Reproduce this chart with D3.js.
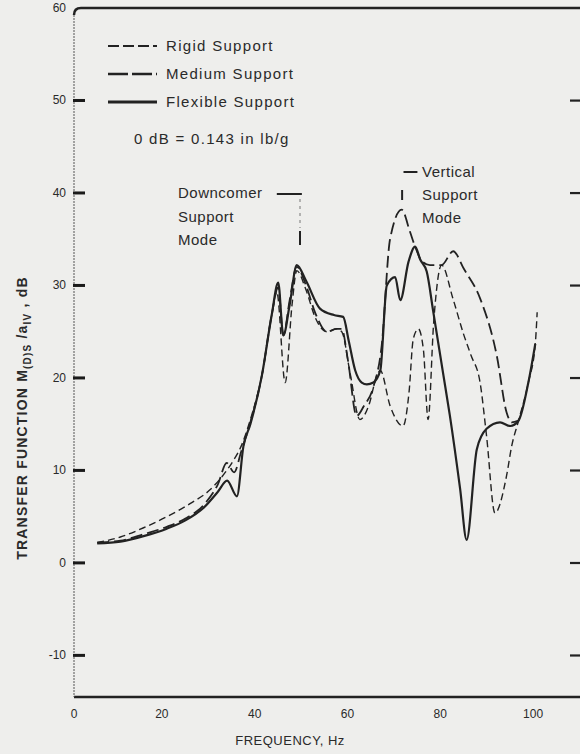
<!DOCTYPE html>
<html>
<head>
<meta charset="utf-8">
<script src="https://cdn.jsdelivr.net/npm/d3@7"></script>
<style>
  body { margin: 0; background: #eeeeec; }
  svg { display: block; }
  text { font-family: "Liberation Sans", Arial, sans-serif; fill: #2a2a2a; }
</style>
</head>
<body>
<div id="chart"></div>
<script>
// tick labels
var xTicks = [0, 20, 40, 60, 80, 100];
var yTicks = [-10, 0, 10, 20, 30, 40, 50, 60];

// Rigid support (short dashes)
var rigidFreq = [5, 10, 15, 20, 25, 29.3, 32, 34, 36, 38, 40.5, 42.6, 43.7, 45.5, 47, 48, 50, 52, 54.5, 56.6, 57.7, 59.5, 61.6, 63.5, 65.3, 66, 68.1, 70.9, 72.2, 73.1, 74.2, 75.3, 76.3, 77.5, 79.2, 81.7, 83.9, 85.5, 87.5, 88.9, 90.7, 93.2, 94.3, 95.8, 97.9, 99.4, 99.8];
var rigidDb = [2.2, 2.8, 3.8, 5.0, 6.4, 7.9, 9.4, 10.8, 12.6, 15.5, 20.3, 26.8, 29.3, 19.5, 28.0, 31.6, 29.5, 26.5, 25.0, 25.3, 25.0, 20.5, 15.5, 17.0, 20.3, 20.8, 17.0, 14.8, 18.5, 24.2, 25.3, 23.0, 15.5, 26.0, 32.2, 28.5, 24.8, 22.5, 19.5, 13.7, 5.4, 9.4, 12.6, 15.4, 19.5, 23.7, 27.1];

// Medium support (long dashes)
var mediumFreq = [5, 10, 15, 20, 24, 28, 31, 32.9, 34.5, 36, 38, 40.5, 42.6, 44, 45.1, 46.5, 48, 50, 52, 54.5, 56.6, 57.7, 59, 60.9, 62.5, 64.5, 66.3, 68.1, 70.6, 72.4, 73.5, 75, 76.7, 79.2, 81.7, 84, 87.5, 91.1, 93.2, 94.3, 95.8];
var mediumDb = [2.2, 2.4, 3.1, 3.9, 4.8, 6.3, 8.5, 10.8, 9.8, 12.0, 15.2, 20.3, 26.8, 29.8, 24.6, 28.5, 32.0, 30.0, 27.0, 25.0, 25.3, 25.3, 22.0, 15.9, 17.0, 19.0, 23.5, 35.0, 38.2, 35.8, 34.2, 32.6, 32.2, 32.2, 33.7, 31.8, 28.6, 22.4, 16.3, 15.2, 15.4];

// Flexible support (solid)
var flexFreq = [5, 10, 15, 20, 24, 28, 31, 33, 35.1, 36.5, 38, 40.5, 42.6, 44, 45.1, 46.5, 48, 50, 53, 56, 58, 59.2, 60.6, 62, 63.1, 64.5, 66, 67.4, 69.2, 70.3, 72.1, 73.5, 74.6, 76, 77.4, 79.5, 81, 83.2, 84.6, 86.8, 88.9, 91.8, 94, 95.8, 97.9, 99.4];
var flexDb = [2.1, 2.3, 2.9, 3.7, 4.6, 6.0, 7.7, 8.9, 7.2, 12.6, 15.0, 20.3, 26.8, 30.3, 24.6, 28.0, 32.2, 30.5, 27.5, 26.8, 26.6, 24.0, 20.8, 19.5, 19.3, 19.5, 20.8, 30.0, 30.9, 28.4, 32.6, 34.2, 32.8, 31.5, 27.2, 20.6, 15.9, 8.0, 2.5, 12.3, 14.5, 15.2, 14.8, 15.4, 19.5, 23.7];

var seriesNames = ["Rigid Support", "Medium Support", "Flexible Support"];

var width = 580,
	height = 754;

var svg = d3.select("#chart")
	.append("svg")
	.attr("width", width)
	.attr("height", height);

var x = d3.scaleLinear().domain([0, 108.6]).range([74, 578]);
var y = d3.scaleLinear().domain([-14.5, 60]).range([697, 8]);

var ink = "#222";

// frame: thick top and bottom, thin dotted left
svg.append("path")
	.attr("d", "M" + x(0) + "," + (y(60) + 7) + " Q" + x(0) + "," + y(60) + " " + (x(0) + 7) + "," + y(60) + " L580," + y(60))
	.style("fill", "none")
	.style("stroke", ink)
	.style("stroke-width", 2.5);

svg.append("line")
	.attr("x1", x(0)).attr("x2", 580)
	.attr("y1", y(-14.5)).attr("y2", y(-14.5))
	.style("stroke", ink)
	.style("stroke-width", 2.5);

svg.append("line")
	.attr("x1", x(0)).attr("x2", x(0))
	.attr("y1", y(60) + 7).attr("y2", y(-14.5))
	.style("stroke", "#555")
	.style("stroke-width", 1)
	.style("stroke-dasharray", "2,1");

// y tick labels
svg.selectAll(".ylab")
	.data(yTicks)
	.enter().append("text")
	.attr("class", "ylab")
	.attr("x", x(0) - 8)
	.attr("y", function(d) { return y(d) + 4; })
	.attr("text-anchor", "end")
	.style("font-size", "12px")
	.text(function(d) { return d; });

// x tick labels
svg.selectAll(".xlab")
	.data(xTicks)
	.enter().append("text")
	.attr("class", "xlab")
	.attr("x", function(d) { return x(d) - (d > 0 ? 5 : 0); })
	.attr("y", 718)
	.attr("text-anchor", "middle")
	.style("font-size", "12px")
	.text(function(d) { return d; });

svg.append("text")
	.attr("x", 290)
	.attr("y", 745)
	.attr("text-anchor", "middle")
	.style("font-size", "13px")
	.style("letter-spacing", "0.5px")
	.text("FREQUENCY,  Hz");

// y axis title with subscripts
var ytitle = svg.append("text")
	.attr("transform", "translate(27,418) rotate(-90)")
	.attr("text-anchor", "middle")
	.style("font-size", "14px")
	.style("font-weight", "bold")
	.style("letter-spacing", "1.2px");
ytitle.append("tspan").text("TRANSFER FUNCTION  M");
ytitle.append("tspan").attr("dy", 4).style("font-size", "10px").text("(D)S");
ytitle.append("tspan").attr("dy", -4).text(" /a");
ytitle.append("tspan").attr("dy", 4).style("font-size", "10px").text("IV");
ytitle.append("tspan").attr("dy", -4).text(" ,   dB");

// curves
var line = d3.line()
	.x(function(d) { return x(d[0]); })
	.y(function(d) { return y(d[1]); })
	.curve(d3.curveMonotoneX);

var curves = [
	{ name: seriesNames[0], f: rigidFreq, v: rigidDb, w: 1.4, dash: "7,4", key: "11,4" },
	{ name: seriesNames[1], f: mediumFreq, v: mediumDb, w: 1.8, dash: "12,5", key: "20,4" },
	{ name: seriesNames[2], f: flexFreq, v: flexDb, w: 2.2, dash: null, key: null }
];

svg.selectAll(".curve")
	.data(curves)
	.enter().append("path")
	.attr("class", "curve")
	.attr("d", function(c) { return line(d3.zip(c.f, c.v)); })
	.style("fill", "none")
	.style("stroke", ink)
	.style("stroke-width", function(c) { return c.w; })
	.style("stroke-dasharray", function(c) { return c.dash; })
	.style("stroke-linejoin", "round");

// legend
var legend = svg.selectAll(".legend")
	.data(curves)
	.enter().append("g")
	.attr("class", "legend")
	.attr("transform", function(d, i) { return "translate(0," + (46 + i * 28) + ")"; });

legend.append("line")
	.attr("x1", 108).attr("x2", 157)
	.style("stroke", ink)
	.style("stroke-width", function(c) { return c.w + 0.8; })
	.style("stroke-dasharray", function(c) { return c.key; });

legend.append("text")
	.attr("x", 166)
	.attr("y", 5)
	.style("font-size", "15px")
	.style("letter-spacing", "1.3px")
	.text(function(d) { return d.name; });

svg.append("text")
	.attr("x", 134)
	.attr("y", 144)
	.style("font-size", "15px")
	.style("letter-spacing", "1.3px")
	.text("0 dB = 0.143 in lb/g");

// annotations
var ann1 = ["Downcomer", "Support", "Mode"];
svg.selectAll(".ann1")
	.data(ann1)
	.enter().append("text")
	.attr("class", "ann1")
	.attr("x", 178)
	.attr("y", function(d, i) { return 198 + i * 23.5; })
	.style("font-size", "15px")
	.style("letter-spacing", "0.5px")
	.text(function(d) { return d; });

svg.append("line")
	.attr("x1", x(43.7)).attr("x2", x(49.1))
	.attr("y1", 194).attr("y2", 194)
	.style("stroke", ink).style("stroke-width", 2);
svg.append("line")
	.attr("x1", x(48.7)).attr("x2", x(48.7))
	.attr("y1", 199).attr("y2", 228)
	.style("stroke", "#777").style("stroke-width", 1)
	.style("stroke-dasharray", "3,4");
svg.append("line")
	.attr("x1", x(48.7)).attr("x2", x(48.7))
	.attr("y1", 231).attr("y2", 245)
	.style("stroke", ink).style("stroke-width", 2);

var ann2 = ["Vertical", "Support", "Mode"];
svg.selectAll(".ann2")
	.data(ann2)
	.enter().append("text")
	.attr("class", "ann2")
	.attr("x", 422)
	.attr("y", function(d, i) { return 177 + i * 23; })
	.style("font-size", "15px")
	.style("letter-spacing", "0.5px")
	.text(function(d) { return d; });

svg.append("line")
	.attr("x1", x(71)).attr("x2", x(74))
	.attr("y1", 172).attr("y2", 172)
	.style("stroke", ink).style("stroke-width", 2);
svg.append("line")
	.attr("x1", x(70.7)).attr("x2", x(70.7))
	.attr("y1", 190).attr("y2", 200)
	.style("stroke", ink).style("stroke-width", 2);

// ticks pointing inward on both sides, drawn last
var innerTicks = yTicks.filter(function(d) { return d < 60; });

svg.selectAll(".ltick")
	.data(innerTicks)
	.enter().append("rect")
	.attr("class", "ltick")
	.attr("x", x(0) - 1)
	.attr("y", function(d) { return y(d) - 1.5; })
	.attr("width", 12)
	.attr("height", 3)
	.style("fill", "#1a1a1a");

svg.selectAll(".rtick")
	.data(innerTicks)
	.enter().append("rect")
	.attr("class", "rtick")
	.attr("x", 570)
	.attr("y", function(d) { return y(d) - 1; })
	.attr("width", 10)
	.attr("height", 2.2)
	.style("fill", "#222");
</script>
</body>
</html>
